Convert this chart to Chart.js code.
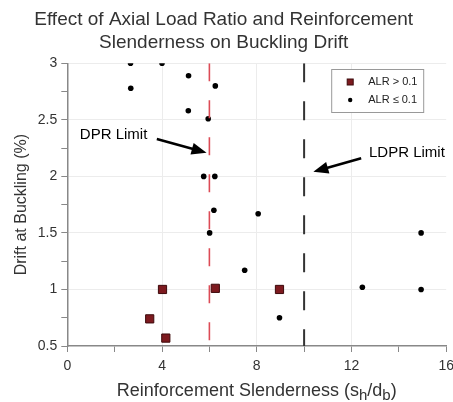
<!DOCTYPE html>
<html>
<head>
<meta charset="utf-8">
<script src="https://cdn.jsdelivr.net/npm/chart.js@4.4.0/dist/chart.umd.min.js"></script>
<style>
  html, body { margin: 0; padding: 0; background: #fff; }
  #wrap { width: 453px; height: 402px; }
</style>
</head>
<body>
<div id="wrap"><canvas id="buckling"></canvas></div>
<script>
// ALR > 0.1 (red squares)
const highX = [4.02, 6.25, 3.48, 4.16, 8.96];
const highY = [1.0, 1.01, 0.74, 0.57, 1.0];
// ALR <= 0.1 (black dots)
const lowX = [2.67, 4.0, 5.12, 2.68, 6.25, 5.11, 5.95, 5.76, 6.23, 6.19, 8.06, 6.01, 7.49, 8.96, 12.46, 14.94, 14.94];
const lowY = [3.0, 3.0, 2.89, 2.78, 2.80, 2.58, 2.51, 2.0, 2.0, 1.70, 1.67, 1.50, 1.17, 0.75, 1.02, 1.50, 1.0];
// limit lines
const dprLimit = 6;
const ldprLimit = 10;
const xTicks = [0, 4, 8, 12, 16];
const yTicks = [0.5, 1, 1.5, 2, 2.5, 3];

function pts(xs, ys) {
  return xs.map((x, i) => ({ x: x, y: ys[i] }));
}

var FONT = 'Arial, "Liberation Sans", sans-serif';

// arrows + labels, legend box, x title with subscripts
const extras = {
  id: 'extras',
  afterDraw(chart) {
    const ctx = chart.ctx;
    const xs = chart.scales.x, ys = chart.scales.y;
    const ca = chart.chartArea;

    function arrow(x1, y1, x2, y2) {
      const ax = xs.getPixelForValue(x1), ay = ys.getPixelForValue(y1);
      const bx = xs.getPixelForValue(x2), by = ys.getPixelForValue(y2);
      const ang = Math.atan2(by - ay, bx - ax);
      const hl = 15, hw = 6;
      ctx.save();
      ctx.strokeStyle = '#000';
      ctx.fillStyle = '#000';
      ctx.lineWidth = 2.5;
      ctx.beginPath();
      ctx.moveTo(ax, ay);
      ctx.lineTo(bx - Math.cos(ang) * (hl - 2), by - Math.sin(ang) * (hl - 2));
      ctx.stroke();
      ctx.beginPath();
      ctx.moveTo(bx, by);
      ctx.lineTo(bx - Math.cos(ang) * hl - Math.sin(ang) * hw, by - Math.sin(ang) * hl + Math.cos(ang) * hw);
      ctx.lineTo(bx - Math.cos(ang) * hl + Math.sin(ang) * hw, by - Math.sin(ang) * hl - Math.cos(ang) * hw);
      ctx.closePath();
      ctx.fill();
      ctx.restore();
    }

    ctx.save();
    ctx.font = '15px ' + FONT;
    ctx.fillStyle = '#000';
    ctx.textBaseline = 'middle';
    ctx.fillText('DPR Limit', xs.getPixelForValue(0.53), ys.getPixelForValue(2.37));
    ctx.fillText('LDPR Limit', xs.getPixelForValue(12.74), ys.getPixelForValue(2.21));
    ctx.restore();
    arrow(3.78, 2.33, 5.88, 2.21);
    arrow(12.41, 2.16, 10.39, 2.04);

    // legend box
    const lx = ca.right - 115, ly = ca.top + 5.7;
    ctx.save();
    ctx.fillStyle = '#fff';
    ctx.fillRect(lx, ly, 92, 43);
    ctx.strokeStyle = '#999';
    ctx.lineWidth = 1;
    ctx.strokeRect(lx + 0.5, ly + 0.5, 92, 43);
    ctx.fillStyle = '#7d1a1f';
    ctx.strokeStyle = '#3d0a0c';
    ctx.fillRect(lx + 16, ly + 10, 6, 6);
    ctx.strokeRect(lx + 16, ly + 10, 6, 6);
    ctx.fillStyle = '#000';
    ctx.beginPath();
    ctx.arc(lx + 19, ly + 31, 2.2, 0, Math.PI * 2);
    ctx.fill();
    ctx.font = '11px ' + FONT;
    ctx.fillStyle = '#222';
    ctx.textBaseline = 'middle';
    ctx.fillText('ALR > 0.1', lx + 37, ly + 13);
    ctx.fillText('ALR \u2264 0.1', lx + 37, ly + 31);
    ctx.restore();

    // x axis title with subscripts
    const parts = [['Reinforcement Slenderness (s', 0], ['h', 1], ['/d', 0], ['b', 1], [')', 0]];
    ctx.save();
    ctx.fillStyle = '#333';
    ctx.textBaseline = 'alphabetic';
    let w = 0;
    parts.forEach(p => {
      ctx.font = (p[1] ? '15px ' : '18px ') + FONT;
      w += ctx.measureText(p[0]).width;
    });
    let cx = (ca.left + ca.right) / 2 - w / 2;
    const base = 396;
    parts.forEach(p => {
      ctx.font = (p[1] ? '15px ' : '18px ') + FONT;
      ctx.fillText(p[0], cx, base + (p[1] ? 3.5 : 0));
      cx += ctx.measureText(p[0]).width;
    });
    ctx.restore();
  }
};

var ctx = document.getElementById('buckling').getContext('2d');
new Chart(ctx, {
  type: 'scatter',
  data: {
    datasets: [
      {
        label: 'DPR Limit',
        data: [{ x: dprLimit, y: 3 }, { x: dprLimit, y: 0.5 }],
        showLine: true,
        borderColor: '#dc4b56',
        borderWidth: 1.6,
        borderDash: [18, 19],
        pointRadius: 0
      },
      {
        label: 'LDPR Limit',
        data: [{ x: ldprLimit, y: 3 }, { x: ldprLimit, y: 0.5 }],
        showLine: true,
        borderColor: '#333',
        borderWidth: 2,
        borderDash: [19, 19],
        pointRadius: 0
      },
      {
        label: 'ALR > 0.1',
        data: pts(highX, highY),
        pointStyle: 'rect',
        pointRadius: 5.8,
        backgroundColor: '#7d1a1f',
        borderColor: '#3d0a0c',
        borderWidth: 1
      },
      {
        label: 'ALR \u2264 0.1',
        data: pts(lowX, lowY),
        pointStyle: 'circle',
        pointRadius: 2.8,
        backgroundColor: '#000',
        borderColor: '#000',
        borderWidth: 0
      }
    ]
  },
  options: {
    responsive: true,
    maintainAspectRatio: false,
    animation: false,
    layout: { padding: { left: 0, right: 5.7, top: 0, bottom: 0 } },
    plugins: {
      legend: { display: false },
      tooltip: { enabled: false },
      title: {
        display: true,
        text: ['Effect of Axial Load Ratio and Reinforcement', 'Slenderness on Buckling Drift'],
        color: '#333',
        font: { family: FONT, size: 19, weight: 'normal', lineHeight: '23px' },
        padding: { top: 8.5, bottom: 8.8 }
      }
    },
    scales: {
      x: {
        type: 'linear',
        min: 0,
        max: 16,
        afterFit: function(s) { s.height = 56; s.paddingLeft = 0; s.paddingRight = 0; },
        afterBuildTicks: function(s) {
          s.ticks = [];
          for (let v = 0; v <= 16; v += 2) s.ticks.push({ value: v });
        },
        ticks: {
          color: '#333',
          font: { family: FONT, size: 14 },
          padding: 6,
          maxRotation: 0,
          autoSkip: false,
          callback: function(v) { return xTicks.includes(v) ? String(v) : ''; }
        },
        grid: {
          color: function(c) { return (c.tick && xTicks.includes(c.tick.value) && c.tick.value > 0 && c.tick.value < 16) ? '#ececec' : 'rgba(0,0,0,0)'; },
          tickColor: '#888',
          tickLength: 6
        },
        border: { color: '#888', width: 1.5 }
      },
      y: {
        type: 'linear',
        min: 0.5,
        max: 3,
        afterFit: function(s) { s.width = 67.3; s.paddingTop = 0; s.paddingBottom = 0; },
        afterBuildTicks: function(s) {
          s.ticks = [];
          for (let v = 0.5; v <= 3.0001; v += 0.25) s.ticks.push({ value: Math.round(v * 100) / 100 });
        },
        ticks: {
          color: '#333',
          font: { family: FONT, size: 14 },
          padding: 4,
          autoSkip: false,
          callback: function(v) { return yTicks.includes(v) ? String(v) : ''; }
        },
        grid: {
          color: function(c) { return (c.tick && yTicks.includes(c.tick.value) && c.tick.value > 0.5) ? '#ececec' : 'rgba(0,0,0,0)'; },
          tickColor: '#888',
          tickLength: 6
        },
        border: { color: '#888', width: 1.5 },
        title: {
          display: true,
          text: 'Drift at Buckling (%)',
          color: '#333',
          font: { family: FONT, size: 16 },
          padding: { top: 12, bottom: 0 }
        }
      }
    }
  },
  plugins: [extras]
});
</script>
</body>
</html>
